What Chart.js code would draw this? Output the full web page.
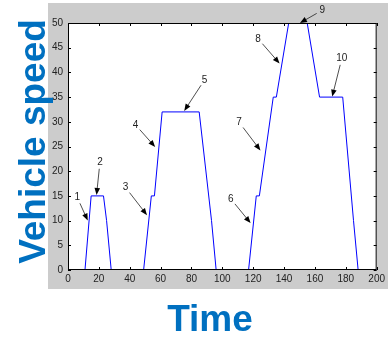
<!DOCTYPE html>
<html>
<head>
<meta charset="utf-8">
<script src="https://cdn.jsdelivr.net/npm/chart.js@4.4.0/dist/chart.umd.min.js"></script>
<style>
  html, body { margin: 0; padding: 0; background: #fff; }
  #wrap { width: 388px; height: 337px; }
</style>
</head>
<body>
<div id="wrap"><canvas id="speedChart" width="388" height="337"></canvas></div>
<script>
// drive cycle (time in s, speed)
var times  = [0, 11, 15, 23, 25, 28, 49, 54, 56, 61, 85, 93, 96, 117, 122, 124, 133, 135, 143, 155, 163, 178, 185, 188, 200];
var speeds = [0, 0, 15, 15, 10, 0, 0, 15, 15, 32, 32, 10, 0, 0, 15, 15, 35, 35, 50, 50, 35, 35, 10, 0, 0];

var xTicks = [0, 20, 40, 60, 80, 100, 120, 140, 160, 180, 200];
var yTicks = [0, 5, 10, 15, 20, 25, 30, 35, 40, 45, 50];

// numbered arrows: label position and arrow tip, in data units
var annoText  = ['1', '2', '3', '4', '5', '6', '7', '8', '9', '10'];
var annoTextX = [6.0, 20.7, 37.3, 43.7, 88.5, 105.5, 110.9, 123.2, 164.8, 177.4];
var annoTextY = [14.7, 21.8, 16.7, 29.4, 38.5, 14.4, 29.9, 46.8, 52.6, 42.8];
var annoTipX  = [12.8, 18.5, 51.2, 56.5, 75.3, 118.3, 124.7, 137.1, 150.3, 171.2];
var annoTipY  = [10.0, 15.2, 11.1, 24.9, 32.2, 9.5, 24.2, 41.8, 50.0, 35.1];

var points = times.map(function (t, i) { return { x: t, y: speeds[i] }; });

var FONT = '"Liberation Sans", Arial, Helvetica, sans-serif';

var framePlugin = {
  id: 'frame',
  beforeDraw: function (chart) {
    var ctx = chart.ctx, a = chart.chartArea;
    ctx.save();
    ctx.fillStyle = '#ffffff';
    ctx.fillRect(0, 0, chart.width, chart.height);
    ctx.fillStyle = '#cccccc';
    ctx.fillRect(48, 3, chart.width - 48, 286);
    ctx.fillStyle = '#ffffff';
    ctx.fillRect(a.left, a.top, a.right - a.left, a.bottom - a.top);
    ctx.restore();
  },
  afterDatasetsDraw: function (chart) {
    var ctx = chart.ctx, a = chart.chartArea;
    var xs = chart.scales.x, ys = chart.scales.y;
    ctx.save();
    // box
    ctx.strokeStyle = '#000';
    ctx.lineWidth = 1;
    ctx.strokeRect(a.left + 0.5, a.top + 0.5, a.right - a.left - 1, a.bottom - a.top - 1);
    // inner ticks on all sides
    ctx.beginPath();
    xTicks.forEach(function (v) {
      var px = Math.round(xs.getPixelForValue(v)) + 0.5;
      ctx.moveTo(px, a.bottom); ctx.lineTo(px, a.bottom - 3);
      ctx.moveTo(px, a.top); ctx.lineTo(px, a.top + 3);
    });
    yTicks.forEach(function (v) {
      var py = Math.round(ys.getPixelForValue(v)) + 0.5;
      ctx.moveTo(a.left, py); ctx.lineTo(a.left + 3, py);
      ctx.moveTo(a.right, py); ctx.lineTo(a.right - 3, py);
    });
    ctx.stroke();

    // numbered arrows
    ctx.font = '10px ' + FONT;
    ctx.textAlign = 'center';
    ctx.textBaseline = 'middle';
    annoText.forEach(function (txt, i) {
      var lx = xs.getPixelForValue(annoTextX[i]), ly = ys.getPixelForValue(annoTextY[i]);
      var tx = xs.getPixelForValue(annoTipX[i]), ty = ys.getPixelForValue(annoTipY[i]);
      var dx = tx - lx, dy = ty - ly, len = Math.sqrt(dx * dx + dy * dy);
      var ux = dx / len, uy = dy / len;
      var sx = lx + ux * 6.5, sy = ly + uy * 6.5;
      ctx.fillStyle = '#222';
      ctx.fillText(txt, lx, ly);
      ctx.strokeStyle = '#222';
      ctx.lineWidth = 0.8;
      ctx.beginPath();
      ctx.moveTo(sx, sy);
      ctx.lineTo(tx - ux * 4, ty - uy * 4);
      ctx.stroke();
      ctx.fillStyle = '#000';
      ctx.beginPath();
      ctx.moveTo(tx, ty);
      ctx.lineTo(tx - ux * 7 - uy * 2.8, ty - uy * 7 + ux * 2.8);
      ctx.lineTo(tx - ux * 7 + uy * 2.8, ty - uy * 7 - ux * 2.8);
      ctx.closePath();
      ctx.fill();
    });
    ctx.restore();
  },
  afterDraw: function (chart) {
    var ctx = chart.ctx;
    ctx.save();
    ctx.fillStyle = '#0070c0';
    ctx.font = 'bold 37px ' + FONT;
    ctx.textAlign = 'center';
    ctx.textBaseline = 'alphabetic';
    ctx.fillText('Time', 210, 331);
    ctx.translate(45, 141.5);
    ctx.rotate(-Math.PI / 2);
    ctx.fillText('Vehicle speed', 0, 0);
    ctx.restore();
  }
};

var ctx = document.getElementById('speedChart').getContext('2d');
var speedChart = new Chart(ctx, {
  type: 'line',
  data: {
    datasets: [{
      label: 'Vehicle speed',
      data: points,
      borderColor: '#0000ff',
      borderWidth: 1,
      pointRadius: 0,
      tension: 0,
      fill: false
    }]
  },
  options: {
    responsive: false,
    animation: false,
    layout: { padding: { left: 0, right: 7, top: 23, bottom: 0 } },
    plugins: { legend: { display: false }, tooltip: { enabled: false } },
    scales: {
      x: {
        type: 'linear',
        min: 0,
        max: 200,
        afterFit: function (s) { s.height = 67; },
        afterBuildTicks: function (s) { s.ticks = xTicks.map(function (v) { return { value: v }; }); },
        grid: { display: false, drawTicks: false },
        border: { display: false },
        ticks: { color: '#222', font: { family: FONT, size: 10 }, padding: 3, maxRotation: 0 }
      },
      y: {
        type: 'linear',
        min: 0,
        max: 50,
        afterFit: function (s) { s.width = 68; },
        afterBuildTicks: function (s) { s.ticks = yTicks.map(function (v) { return { value: v }; }); },
        grid: { display: false, drawTicks: false },
        border: { display: false },
        ticks: { color: '#222', font: { family: FONT, size: 10 }, padding: 5 }
      }
    }
  },
  plugins: [framePlugin]
});
</script>
</body>
</html>
